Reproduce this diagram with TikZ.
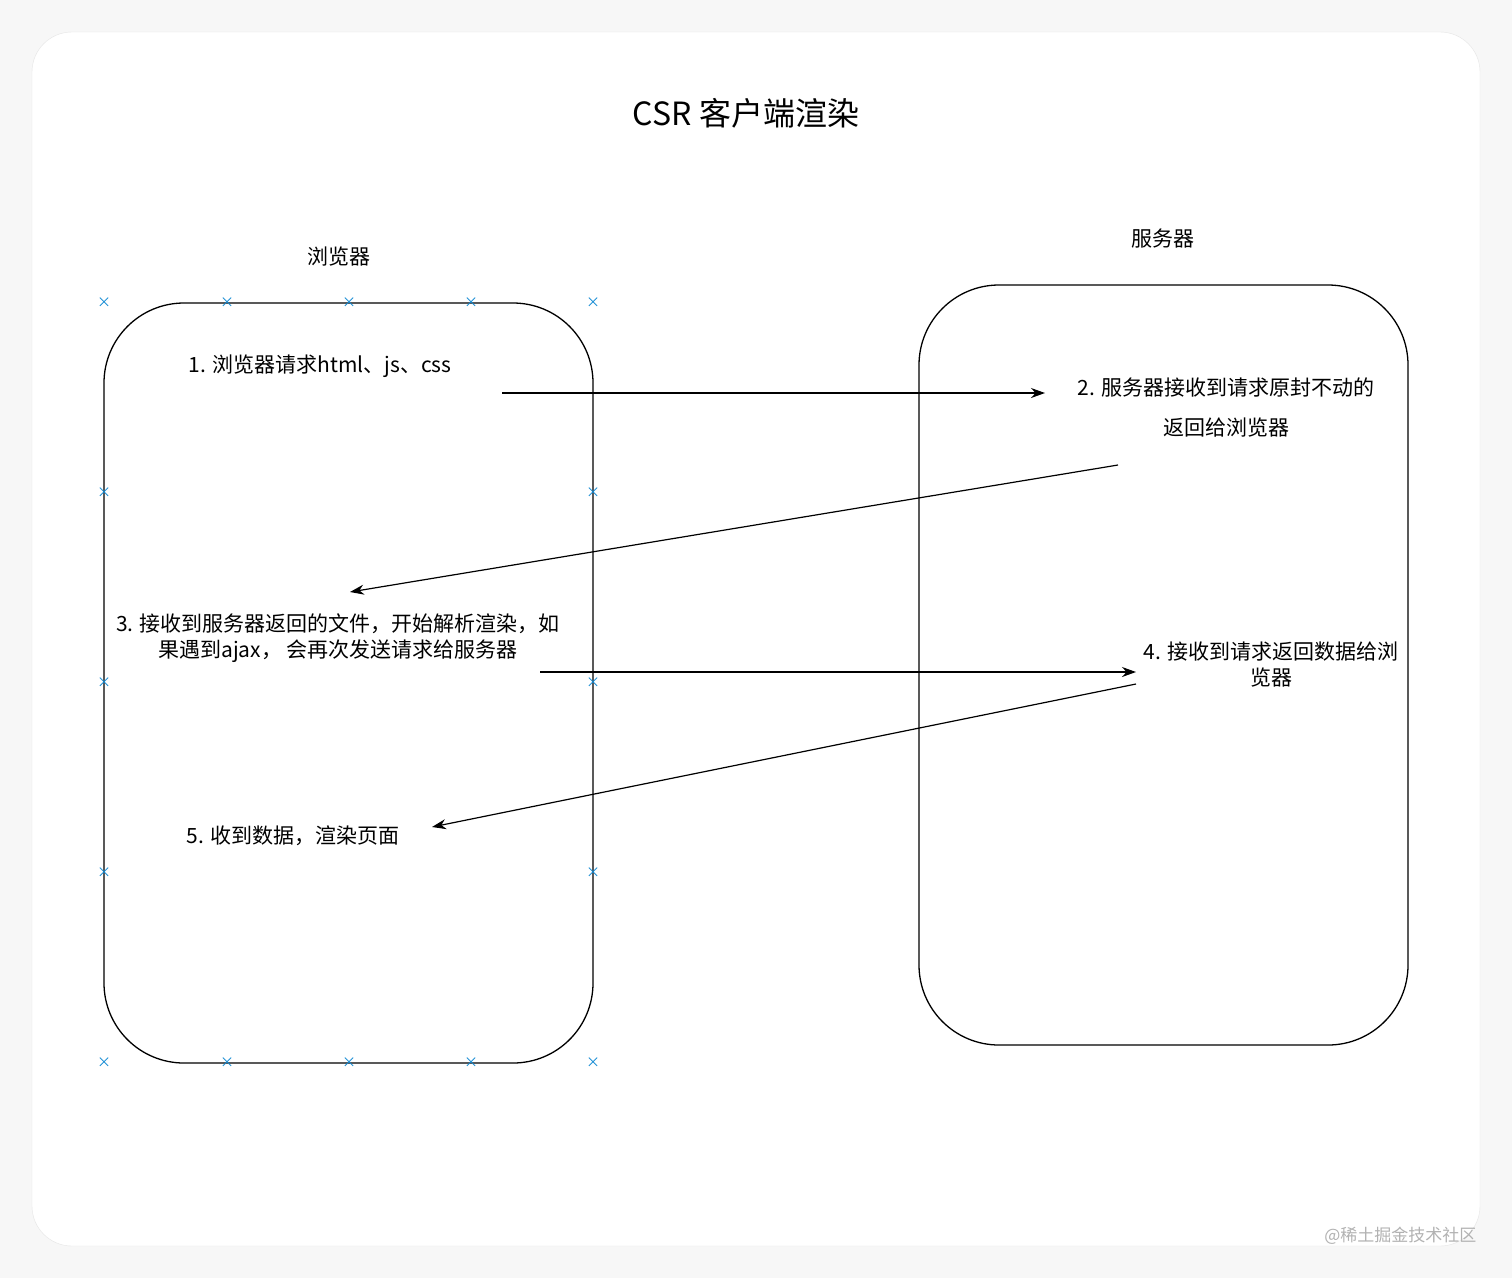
\documentclass[tikz,border=0pt]{standalone}
\usepackage{fontspec}
\setmainfont{Noto Sans CJK SC}
\usetikzlibrary{arrows.meta}
\begin{document}
\begin{tikzpicture}[x=1pt,y=-1pt,
  lbl/.style={font=\fontsize{21}{26}\selectfont,align=center,inner sep=0},
  arr/.style={-{Stealth[length=14pt,width=10pt]},line width=1.2pt},
  bx/.style={draw,line width=1.3pt,rounded corners=80pt},
  xm/.style={text=cyan!70!blue,font=\fontsize{14}{14}\selectfont,inner sep=0}]
\useasboundingbox (0,0) rectangle (1512,1278);
\fill[gray!6] (0,0) rectangle (1512,1278);
\fill[white,rounded corners=40pt,draw=gray!20] (32,32) rectangle (1480,1246);
\node[font=\fontsize{32}{36}\selectfont] (title) at (746,113) {CSR 客户端渲染};
\draw[bx] (104,303) rectangle (593,1063);
\draw[bx] (919,285) rectangle (1408,1045);
\foreach \x/\i in {104/a,227/b,349/c,471/d,593/e}{
  \node[xm] (t\i) at (\x,303) {×};
  \node[xm] (b\i) at (\x,1063) {×};}
\foreach \y/\i in {493/a,683/b,873/c}{
  \node[xm] (l\i) at (104,\y) {×};
  \node[xm] (r\i) at (593,\y) {×};}
\node[lbl] (h1) at (339,257) {浏览器};
\node[lbl] (h2) at (1163,239) {服务器};
\node[lbl] (s1) at (320,366) {1. 浏览器请求html、js、css};
\node[lbl] (s2) at (1226,407) {2. 服务器接收到请求原封不动的\\[14pt]返回给浏览器};
\node[lbl] (s3) at (338,638) {3. 接收到服务器返回的文件，开始解析渲染，如\\果遇到ajax， 会再次发送请求给服务器};
\node[lbl] (s4) at (1271,665) {4. 接收到请求返回数据给浏\\览器};
\node[lbl] (s5) at (293,836) {5. 收到数据，渲染页面};
\coordinate (a1) at (502,393); \coordinate (a1e) at (1045,393);
\coordinate (a2) at (1118,465); \coordinate (a2e) at (350,592);
\coordinate (a3) at (540,672); \coordinate (a3e) at (1136,672);
\coordinate (a4) at (1136,684); \coordinate (a4e) at (432,827);
\draw[arr] (a1)--(a1e);
\draw[arr] (a2)--(a2e);
\draw[arr] (a3)--(a3e);
\draw[arr] (a4)--(a4e);
\node[text=gray!60,font=\fontsize{17}{20}\selectfont,anchor=east] (wm) at (1480,1236) {@稀土掘金技术社区};
\end{tikzpicture}
\end{document}
